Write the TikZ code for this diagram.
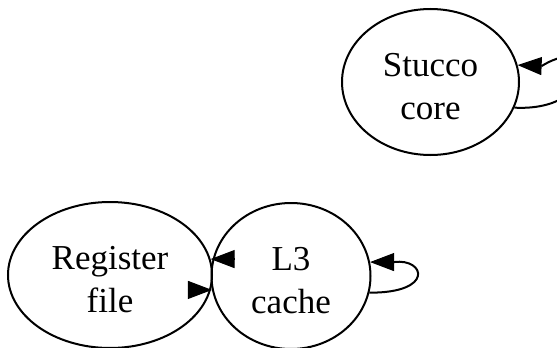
\documentclass[tikz,border=0pt]{standalone}
\usepackage{fontspec}
\setmainfont{Liberation Serif}
\usetikzlibrary{arrows.meta,calc,shapes.geometric}
\newcommand{\topstrut}{\rule{0pt}{32pt}}
\tikzset{
  gnode/.style={draw, ellipse, line width=2pt, inner sep=0pt, align=center,
    font=\fontsize{35}{43}\selectfont, minimum height=146pt},
  arr/.style={line width=2pt, -{Triangle[length=24pt,width=18pt,line width=1pt]}},
}
\begin{document}
\begin{tikzpicture}[x=1pt,y=-1pt]
\useasboundingbox (0,0) rectangle (557,348);
\clip (0,0) rectangle (557,348);
\node[gnode, minimum width=177pt] (stucco) at (430.5,82) {\topstrut Stucco\\core};
\node[gnode, minimum width=204pt] (reg) at (110,275) {\topstrut Register\\file};
\node[gnode, minimum width=159pt] (l3) at (291,276) {\topstrut L3\\cache};
% L3 -> Register and Register -> L3 (overlapping nodes: arrowheads only)
\draw[arr] ([xshift=24pt]reg.9) -- (reg.9);
\draw[arr] ([xshift=-24pt]l3.190) -- (l3.190);
% self loops
\coordinate (l3b) at ($(l3.10)+(24,0)$);
\draw[line width=2pt] (l3.-12) .. controls (435,293) and (425,258) .. (l3b);
\draw[arr] (l3b) -- (l3.10);
\coordinate (stb) at ($(stucco.11)+(24,1)$);
\draw[line width=2pt] (stucco.-17) .. controls (600,112) and (600,30) .. (stb);
\draw[arr] (stb) -- (stucco.11);
\end{tikzpicture}
\end{document}
